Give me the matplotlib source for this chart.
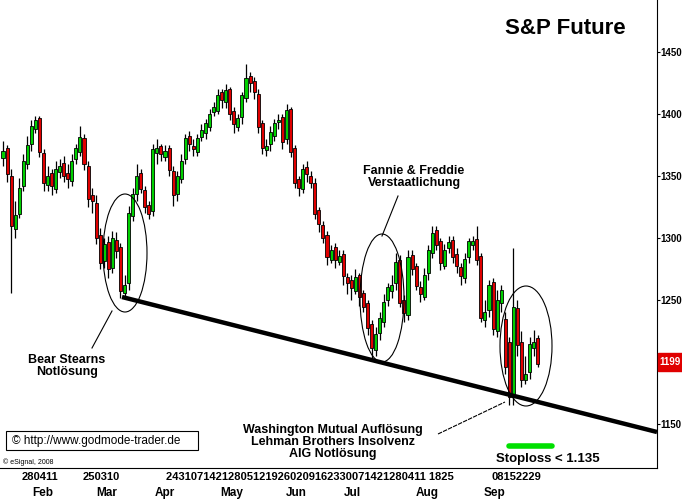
import matplotlib.pyplot as plt
import numpy as np
from matplotlib.patches import Ellipse, Rectangle

# --- daily OHLC (S&P future, 2008) ---
opens = [1365,1372,1350,1308,1320,1342,1360,1376,1388,1396,
         1368,1343,1352,1340,1354,1360,1352,1346,1364,1370,
         1380,1358,1334,1328,1302,1282,1296,1276,1298,1292,
         1256,1264,1318,1336,1352,1338,1326,1322,1369,1374,
         1366,1372,1354,1336,1348,1364,1382,1374,1370,1382,
         1385,1390,1402,1403,1417,1410,1420,1402,1390,1398,
         1413,1430,1426,1416,1392,1371,1376,1383,1394,1397,
         1380,1404,1372,1347,1340,1357,1350,1344,1322,1310,
         1302,1283,1292,1281,1287,1268,1266,1258,1270,1255,
         1247,1230,1210,1224,1233,1250,1258,1264,1282,1250,
         1238,1286,1277,1260,1253,1272,1288,1306,1297,1278,
         1292,1298,1287,1276,1268,1285,1295,1299,1285,1234,
         1242,1264,1225,1248,1234,1216,1172,1243,1216,1186,
         1192,1212,1219]
highs = [1378,1375,1356,1330,1348,1368,1382,1395,1398,1398,
         1372,1358,1356,1362,1364,1366,1360,1368,1376,1390,
         1384,1362,1340,1335,1308,1300,1302,1306,1305,1296,
         1270,1326,1340,1360,1356,1342,1330,1376,1380,1376,
         1375,1375,1358,1354,1368,1384,1386,1380,1384,1392,
         1396,1404,1410,1420,1420,1424,1422,1406,1400,1418,
         1440,1434,1430,1420,1395,1380,1390,1396,1400,1400,
         1408,1406,1375,1350,1360,1362,1354,1348,1325,1314,
         1306,1294,1296,1290,1290,1272,1270,1275,1272,1258,
         1250,1234,1228,1240,1255,1264,1270,1288,1286,1254,
         1290,1290,1280,1265,1276,1294,1310,1310,1300,1295,
         1302,1302,1292,1280,1288,1300,1302,1310,1288,1250,
         1266,1268,1258,1262,1240,1220,1292,1250,1225,1205,
         1220,1226,1222]
lows = [1358,1345,1256,1300,1316,1338,1356,1370,1385,1365,
        1338,1338,1335,1336,1348,1345,1340,1342,1360,1366,
        1355,1325,1320,1295,1275,1276,1268,1272,1284,1252,
        1252,1258,1314,1330,1336,1320,1315,1318,1360,1362,
        1362,1350,1326,1330,1344,1360,1370,1366,1366,1378,
        1380,1386,1398,1400,1405,1405,1395,1385,1386,1392,
        1410,1418,1412,1385,1368,1366,1370,1378,1388,1372,
        1376,1365,1340,1334,1336,1345,1340,1315,1305,1296,
        1278,1280,1276,1278,1262,1255,1250,1255,1245,1240,
        1222,1202,1205,1218,1228,1245,1252,1258,1244,1232,
        1234,1270,1258,1248,1250,1266,1284,1290,1274,1275,
        1288,1280,1272,1262,1264,1280,1290,1278,1232,1228,
        1236,1222,1220,1240,1190,1165,1165,1205,1180,1182,
        1186,1205,1196]
closes = [1370,1352,1310,1318,1340,1362,1375,1390,1395,1370,
          1345,1350,1342,1355,1358,1350,1348,1362,1372,1381,
          1360,1332,1330,1300,1280,1295,1275,1300,1290,1258,
          1262,1320,1335,1350,1340,1325,1320,1371,1372,1368,
          1370,1355,1335,1350,1362,1380,1376,1372,1380,1387,
          1392,1400,1405,1415,1412,1419,1400,1392,1396,1415,
          1429,1425,1418,1390,1373,1374,1385,1392,1395,1378,
          1403,1370,1345,1341,1355,1352,1345,1320,1312,1300,
          1285,1290,1283,1285,1270,1264,1260,1268,1253,1245,
          1228,1212,1222,1235,1248,1260,1262,1280,1248,1240,
          1284,1275,1262,1255,1270,1290,1304,1295,1280,1290,
          1296,1285,1278,1270,1283,1297,1297,1283,1236,1240,
          1262,1227,1250,1258,1196,1172,1244,1214,1186,1190,
          1214,1216,1199]
price_ticks = [1150, 1250, 1300, 1350, 1400, 1450]
last_price = 1199
day_groups = ['280411', '250310',
              '243107142128051219260209162330071421280411 1825',
              '08152229']
months = ['Feb', 'Mar', 'Apr', 'May', 'Jun', 'Jul', 'Aug', 'Sep']

W, H = 682, 503
GREEN = '#00d000'
RED = '#e00000'
plt.rcParams['font.family'] = ['Liberation Sans', 'DejaVu Sans']

fig = plt.figure(figsize=(W / 100, H / 100), dpi=100)
ax = fig.add_axes([0, 1 - 468 / H, 657 / W, 468 / H])

# pixel -> data scales
px_bar = 4.05
px_pt = 1.24
ax.set_xlim(-3 / px_bar, 654 / px_bar)
ax.set_ylim(1450 - 416 / px_pt, 1450 + 52 / px_pt)

o = np.array(opens); c = np.array(closes); h = np.array(highs); l = np.array(lows)
x = np.arange(len(c))
ax.vlines(x, l, h, color='black', lw=0.9, zorder=2)
up = c >= o
ax.bar(x, np.abs(c - o) + 0.8, bottom=np.minimum(o, c) - 0.4, width=0.75,
       color=np.where(up, GREEN, RED), edgecolor='black', linewidth=0.6, zorder=3)

# support line
ax.plot([(122 - 3) / px_bar, 654 / px_bar], [1450 - 245 / px_pt, 1450 - 380 / px_pt],
        color='black', lw=3.2, zorder=4, solid_capstyle='butt')

for sp in ['top', 'left']:
    ax.spines[sp].set_visible(False)
ax.yaxis.tick_right()
ax.set_yticks(price_ticks)
ax.set_yticklabels([str(p) for p in price_ticks], fontweight='bold', fontsize=7)
ax.tick_params(axis='y', length=2, pad=0.5)
ax.set_xticks([])

# overlay in pixel coordinates
ov = fig.add_axes([0, 0, 1, 1], facecolor='none')
ov.set_xlim(0, W); ov.set_ylim(H, 0); ov.axis('off')

for cx, cy, ew, eh in [(125, 253, 44, 118), (382, 298, 44, 128), (526, 346, 52, 120)]:
    ov.add_patch(Ellipse((cx, cy), ew, eh, fill=False, lw=0.8, color='black'))
ov.plot([92, 112], [348, 311], color='black', lw=0.8)
ov.plot([398, 382], [196, 236], color='black', lw=0.8)
ov.plot([438, 505], [434, 402], color='black', lw=0.8, ls=(0, (4, 1)))

bold = dict(fontweight='bold', ha='center', va='center', color='black')
ov.text(565, 28, 'S&P Future', fontsize=16, **bold)
ov.text(414, 177, 'Fannie & Freddie\nVerstaatlichung', fontsize=9, linespacing=1.1, **bold)
ov.text(67, 366, 'Bear Stearns\nNotlösung', fontsize=9, linespacing=1.1, **bold)
ov.text(333, 442, 'Washington Mutual Auflösung\nLehman Brothers Insolvenz\nAIG Notlösung',
        fontsize=9, linespacing=1.05, **bold)
ov.text(548, 459, 'Stoploss < 1.135', fontsize=9.5, **bold)
ov.plot([509, 552], [446, 446], color='#00e000', lw=4, solid_capstyle='round')

ov.add_patch(Rectangle((6, 431), 192, 19, fill=False, lw=0.8, color='black'))
ov.text(12, 441, '© http://www.godmode-trader.de', fontsize=8.5, va='center', ha='left')
ov.text(3, 462, '© eSignal, 2008', fontsize=5, va='center', ha='left')

ov.add_patch(Rectangle((658, 353), 24, 18, color='#e00000', zorder=5))
ov.text(670, 362, str(last_price), color='white', fontsize=7, fontweight='bold',
        ha='center', va='center', zorder=6)

for txt, cx in zip(day_groups, [40, 101, 310, 516]):
    ov.text(cx, 477, txt, fontsize=8, fontweight='bold', ha='center', va='center')
for m, mx in zip(months, [43, 107, 165, 232, 296, 352, 427, 494]):
    ov.text(mx, 493, m, fontsize=8.5, fontweight='bold', ha='center', va='center')

fig.savefig('out.png', dpi=100)
